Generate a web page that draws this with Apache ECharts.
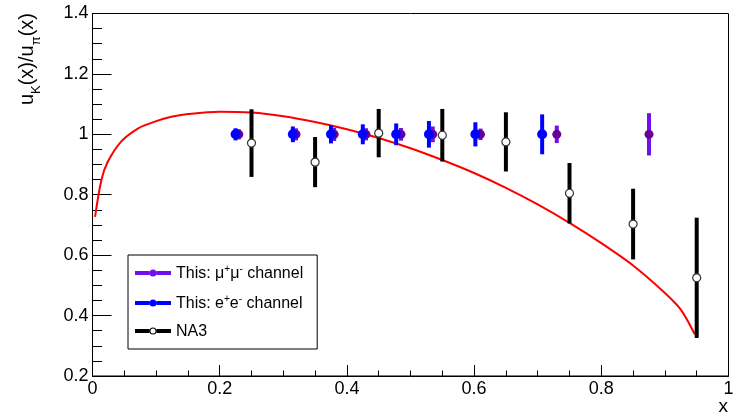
<!DOCTYPE html>
<html>
<head>
<meta charset="utf-8">
<script src="https://cdn.jsdelivr.net/npm/echarts@6/dist/echarts.min.js"></script>
<style>html,body{margin:0;padding:0;background:#fff;}#c{width:733px;height:417px;}</style>
</head>
<body>
<div id="c"></div>
<script>
// ---- data ----
const MU_NAME = 'This: μ+μ- channel';
const EE_NAME = 'This: e+e- channel';
const NA3_NAME = 'NA3';

const muX   = [0.23, 0.32, 0.38, 0.43, 0.485, 0.535, 0.61, 0.73, 0.875];
const muY   = [1, 1, 1, 1, 1, 1, 1, 1, 1];
const muErr = [0.017, 0.02, 0.022, 0.02, 0.021, 0.026, 0.019, 0.029, 0.07];

const eeX   = [0.225, 0.315, 0.375, 0.425, 0.4775, 0.529, 0.602, 0.707];
const eeY   = [1, 1, 1, 1, 1, 1, 1, 1];
const eeErr = [0.02, 0.026, 0.03, 0.033, 0.036, 0.044, 0.04, 0.066];

const na3X   = [0.25, 0.35, 0.45, 0.55, 0.65, 0.75, 0.85, 0.95];
const na3Y   = [0.971, 0.908, 1.004, 0.997, 0.975, 0.805, 0.703, 0.525];
const na3Err = [0.112, 0.083, 0.08, 0.087, 0.098, 0.1, 0.117, 0.199];

const curveX = [0.004, 0.014, 0.024, 0.045, 0.072, 0.098, 0.124, 0.15, 0.2, 0.25, 0.3, 0.35, 0.4, 0.45, 0.5, 0.55, 0.6, 0.65, 0.7, 0.75, 0.8, 0.85, 0.9, 0.925, 0.947];
const curveY = [0.727, 0.849, 0.909, 0.976, 1.02, 1.042, 1.058, 1.067, 1.075, 1.072, 1.06, 1.041, 1.017, 0.988, 0.954, 0.915, 0.872, 0.823, 0.768, 0.707, 0.64, 0.566, 0.475, 0.42, 0.338];

const xTicks = [0, 0.2, 0.4, 0.6, 0.8, 1];
const yTicks = [0.2, 0.4, 0.6, 0.8, 1, 1.2, 1.4];

// ---- build ----
const FONT = 'Liberation Sans, Arial, Helvetica, sans-serif';
function errData(xs, ys, es) { return xs.map((x, i) => [x, ys[i], ys[i] - es[i], ys[i] + es[i]]); }
function ptData(xs, ys) { return xs.map((x, i) => [x, ys[i]]); }
function errSeries(name, data, color, width, z) {
  return {
    name, type: 'custom', z,
    data,
    encode: { x: 0, y: [1, 2, 3] },
    renderItem: function (params, api) {
      const p1 = api.coord([api.value(0), api.value(2)]);
      const p2 = api.coord([api.value(0), api.value(3)]);
      return { type: 'line', shape: { x1: p1[0], y1: p1[1], x2: p2[0], y2: p2[1] },
               style: { stroke: color, lineWidth: width } };
    },
    itemStyle: { color }
  };
}

const iconDot = 'path://M0,1.5 H14.5 V5.5 H0 Z M21.5,1.5 H36 V5.5 H21.5 Z M14.5,3.5 A3.5,3.5 0 1 1 21.5,3.5 A3.5,3.5 0 1 1 14.5,3.5 Z';
const iconRing = 'path://M0,1.5 H14.5 V5.5 H0 Z M21.5,1.5 H36 V5.5 H21.5 Z M14.5,3.5 A3.5,3.5 0 1 1 21.5,3.5 A3.5,3.5 0 1 1 14.5,3.5 Z M15.5,3.5 A2.5,2.5 0 1 0 20.5,3.5 A2.5,2.5 0 1 0 15.5,3.5 Z';

const richLegend = {
  a: { fontSize: 16, fontFamily: FONT, color: '#000', verticalAlign: 'bottom', lineHeight: 18 },
  p: { fontSize: 10, fontFamily: FONT, color: '#000', verticalAlign: 'top', lineHeight: 18 }
};

const chart = echarts.init(document.getElementById('c'));
chart.setOption({
  animation: false,
  backgroundColor: '#fff',
  grid: { left: 92.5, right: 4.5, top: 13.5, bottom: 41, show: true, borderColor: '#000', borderWidth: 1,
          backgroundColor: 'transparent', containLabel: false, outerBoundsMode: 'none' },
  xAxis: {
    type: 'value', min: xTicks[0], max: xTicks[xTicks.length - 1], interval: 0.2,
    axisLine: { lineStyle: { color: '#000', width: 1 } },
    axisTick: { inside: true, length: 11, lineStyle: { color: '#000' } },
    minorTick: { show: true, splitNumber: 4, length: 5.5, lineStyle: { color: '#000' } },
    splitLine: { show: false },
    axisLabel: { fontSize: 18, fontFamily: FONT, color: '#000', margin: 4, showMinLabel: true, showMaxLabel: true, hideOverlap: false }
  },
  yAxis: {
    type: 'value', min: yTicks[0], max: yTicks[yTicks.length - 1], interval: 0.2,
    axisLine: { show: true, lineStyle: { color: '#000', width: 1 } },
    axisTick: { show: true, inside: true, length: 19, lineStyle: { color: '#000' } },
    minorTick: { show: true, splitNumber: 4, length: 9.5, lineStyle: { color: '#000' } },
    splitLine: { show: false },
    axisLabel: { fontSize: 18, fontFamily: FONT, color: '#000', margin: 4, showMinLabel: true, showMaxLabel: true, hideOverlap: false }
  },
  legend: {
    orient: 'vertical', left: 128, top: 255,
    padding: [9, 14, 9, 7], itemGap: 12,
    itemWidth: 36, itemHeight: 7,
    borderColor: '#000', borderWidth: 1, backgroundColor: '#fff',
    selectedMode: false,
    data: [
      { name: MU_NAME, icon: iconDot, itemStyle: { color: '#7010f0' } },
      { name: EE_NAME, icon: iconDot, itemStyle: { color: '#0000ff' } },
      { name: NA3_NAME, icon: iconRing, itemStyle: { color: '#000' } }
    ],
    formatter: function (name) {
      if (name === MU_NAME) return '{a|This: μ}{p|+}{a|μ}{p|-}{a| channel}';
      if (name === EE_NAME) return '{a|This: e}{p|+}{a|e}{p|-}{a| channel}';
      return '{a|' + name + '}';
    },
    textStyle: { fontSize: 16, fontFamily: FONT, color: '#000', rich: richLegend }
  },
  graphic: [
    { type: 'text', x: 43, y: 13, rotation: Math.PI / 2, z: 10,
      style: { text: '{m|u}{s|K}{m|(x)/u}{s|π}{m|(x)}', align: 'right', verticalAlign: 'bottom',
        rich: {
          m: { fontSize: 20, fontFamily: FONT, fill: '#000', verticalAlign: 'bottom', lineHeight: 22, padding: [0, 0, 6, 0] },
          s: { fontSize: 13, fontFamily: FONT, fill: '#000', verticalAlign: 'bottom', lineHeight: 22 }
        } } },
    { type: 'text', x: 728, y: 416, z: 10,
      style: { text: 'x', fontSize: 19, fontFamily: FONT, fill: '#000', align: 'right', verticalAlign: 'bottom' } }
  ],
  series: [
    { type: 'line', name: 'curve', data: ptData(curveX, curveY), smooth: 0.3, symbol: 'none',
      lineStyle: { color: '#ff0000', width: 2 }, z: 1, silent: true },
    errSeries(NA3_NAME, errData(na3X, na3Y, na3Err), '#000', 4, 2),
    { type: 'scatter', name: NA3_NAME, data: ptData(na3X, na3Y), symbol: 'circle', symbolSize: 8, z: 3,
      itemStyle: { color: '#fff', borderColor: '#333', borderWidth: 1.2, opacity: 1 } },
    errSeries(MU_NAME, errData(muX, muY, muErr), '#7010f0', 4, 4),
    { type: 'scatter', name: MU_NAME, data: ptData(muX, muY), symbol: 'circle', symbolSize: 9, z: 5,
      itemStyle: { color: '#660099', opacity: 1 } },
    errSeries(EE_NAME, errData(eeX, eeY, eeErr), '#0000ff', 4, 6),
    { type: 'scatter', name: EE_NAME, data: ptData(eeX, eeY), symbol: 'circle', symbolSize: 10, z: 7,
      itemStyle: { color: '#0000ff', opacity: 1 } }
  ]
});
</script>
</body>
</html>
